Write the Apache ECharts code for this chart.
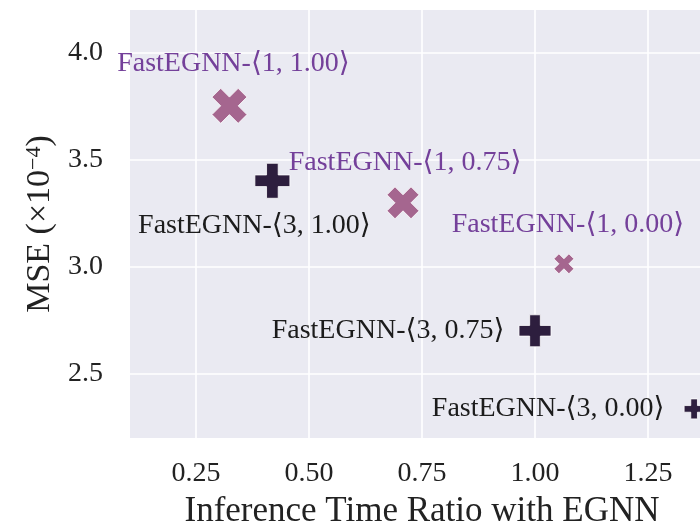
<!DOCTYPE html>
<html>
<head>
<meta charset="utf-8">
<script src="https://cdn.jsdelivr.net/npm/echarts@6/dist/echarts.min.js"></script>
<style>html,body{margin:0;padding:0;background:#fff;}#c{width:700px;height:525px;}</style>
</head>
<body>
<div id="c"></div>
<script>
// ---- data ----
const labels1 = ['FastEGNN-⟨1, 1.00⟩', 'FastEGNN-⟨1, 0.75⟩', 'FastEGNN-⟨1, 0.00⟩'];
const ratio1 = [0.324, 0.708, 1.064];
const mse1 = [3.752, 3.299, 3.014];
const labels3 = ['FastEGNN-⟨3, 1.00⟩', 'FastEGNN-⟨3, 0.75⟩', 'FastEGNN-⟨3, 0.00⟩'];
const ratio3 = [0.419, 1.000, 1.352];
const mse3 = [3.402, 2.701, 2.336];
const xTicks = [0.25, 0.50, 0.75, 1.00, 1.25];
const yTicks = [2.5, 3.0, 3.5, 4.0];

// ---- styles ----
const FONT = "'Liberation Serif', 'DejaVu Serif', serif";
const X_PATH = 'path://M4,1 L3,2 L4,3 L3,4 L2,3 L1,4 L0,3 L1,2 L0,1 L1,0 L2,1 L3,0 Z';
const P_PATH = 'path://M1,0 L2,0 L2,1 L3,1 L3,2 L2,2 L2,3 L1,3 L1,2 L0,2 L0,1 L1,1 Z';
const sizes1 = [35, 32, 20];
const sizes3 = [35, 32, 20];
const offsets1 = [[4, -42], [2, -40], [4, -39]];
const offsets3 = [[-18, 45], [-147, 0], [-146, 0]];

function build(xs, ys, names, sizes, offsets) {
  return xs.map((x, i) => ({
    value: [x, ys[i]],
    name: names[i],
    symbolSize: sizes[i],
    label: { offset: offsets[i] }
  }));
}

const chart = echarts.init(document.getElementById('c'), null, {renderer: 'canvas'});
chart.setOption({
  animation: false,
  grid: { left: 130, top: 10, width: 584, height: 428, backgroundColor: '#eaeaf2', show: true, borderWidth: 0,
          containLabel: false, outerBoundsMode: 'none' },
  xAxis: {
    type: 'value', min: 0.104, max: 1.396,
    axisLine: { show: false }, axisTick: { show: false, customValues: xTicks },
    splitLine: { show: true, lineStyle: { color: '#ffffff', width: 1.6 } },
    axisLabel: { customValues: xTicks, formatter: v => v.toFixed(2), fontFamily: FONT, fontSize: 28, color: '#222222', margin: 22 },
    name: 'Inference Time Ratio with EGNN', nameLocation: 'middle', nameGap: 56,
    nameTextStyle: { fontFamily: FONT, fontSize: 35, color: '#222222' }
  },
  yAxis: {
    type: 'value', min: 2.2, max: 4.2,
    axisLine: { show: false }, axisTick: { show: false, customValues: yTicks },
    splitLine: { show: true, lineStyle: { color: '#ffffff', width: 1.6 } },
    axisLabel: { customValues: yTicks, formatter: v => v.toFixed(1), fontFamily: FONT, fontSize: 28, color: '#222222', margin: 27 },
    name: '{n|MSE (×10}{s|−4}{n|)}', nameLocation: 'middle', nameGap: 72, nameRotate: 90,
    nameTextStyle: { fontFamily: FONT, fontSize: 34, color: '#222222',
      rich: { n: { fontFamily: FONT, fontSize: 34, color: '#222222' },
              s: { fontFamily: FONT, fontSize: 22, color: '#222222', verticalAlign: 'top' } } }
  },
  series: [
    {
      type: 'scatter', name: 'FastEGNN-1', symbol: X_PATH,
      itemStyle: { color: '#a5668f', opacity: 1, borderColor: '#ffffff', borderWidth: 0.8 },
      label: { show: true, position: 'inside', formatter: p => p.name, fontFamily: FONT, fontSize: 28, color: '#74409a' },
      data: build(ratio1, mse1, labels1, sizes1, offsets1)
    },
    {
      type: 'scatter', name: 'FastEGNN-3', symbol: P_PATH,
      itemStyle: { color: '#2d1e3e', opacity: 1, borderColor: '#ffffff', borderWidth: 0.8 },
      label: { show: true, position: 'inside', formatter: p => p.name, fontFamily: FONT, fontSize: 28, color: '#1c1c1c' },
      data: build(ratio3, mse3, labels3, sizes3, offsets3)
    }
  ]
});
</script>
</body>
</html>
